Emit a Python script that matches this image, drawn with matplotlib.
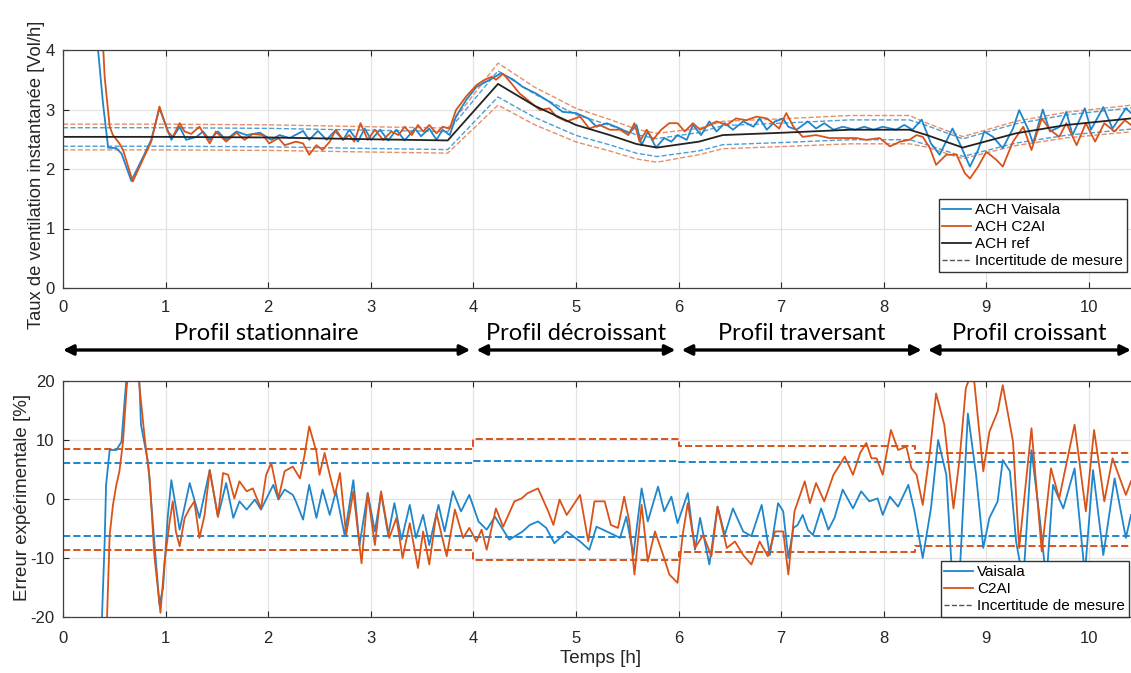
import matplotlib
matplotlib.use('Agg')
import matplotlib.pyplot as plt
import numpy as np

plt.rcParams['font.family'] = ['Liberation Sans', 'DejaVu Sans']
plt.rcParams['axes.unicode_minus'] = False

# ---- top panel: instantaneous ventilation rate [Vol/h] ----
ref_t = [0.0, 1.0, 2.0, 3.0, 3.75, 4.24, 4.6, 5.0, 5.33, 5.59, 5.79, 6.2, 6.43, 7.02, 7.67,
         8.25, 8.42, 8.77, 9.29, 9.78, 10.41]
ref_v = [2.54, 2.54, 2.53, 2.50, 2.48, 3.43, 3.06, 2.74, 2.57, 2.42, 2.36, 2.46, 2.57, 2.61, 2.66,
         2.66, 2.57, 2.36, 2.60, 2.74, 2.85]

vai_t = [0.31, 0.39, 0.44, 0.52, 0.57, 0.666, 0.78, 0.86, 0.94, 1.056, 1.137, 1.20, 1.30, 1.365,
         1.43, 1.51, 1.59, 1.69, 1.79, 1.92, 2.03, 2.11, 2.21, 2.34, 2.40, 2.485, 2.57, 2.65, 2.73,
         2.79, 2.875, 2.94, 3.005, 3.09, 3.17, 3.25, 3.33, 3.43, 3.49, 3.57, 3.64, 3.70, 3.77,
         3.83, 3.93, 4.03, 4.16, 4.27, 4.39, 4.48, 4.61, 4.74, 4.87, 5.0, 5.12, 5.20, 5.30, 5.43,
         5.52, 5.59, 5.64, 5.70, 5.78, 5.86, 5.93, 5.99, 6.08, 6.14, 6.22, 6.30, 6.37, 6.45, 6.53,
         6.63, 6.73, 6.79, 6.86, 6.94, 7.02, 7.07, 7.15, 7.26, 7.34, 7.42, 7.51, 7.60, 7.72, 7.81,
         7.90, 7.99, 8.12, 8.20, 8.28, 8.37, 8.46, 8.545, 8.67, 8.74, 8.84, 8.92, 8.98, 9.065,
         9.16, 9.26, 9.32, 9.41, 9.455, 9.55, 9.62, 9.715, 9.78, 9.84, 9.96, 10.02, 10.14, 10.23,
         10.36, 10.41]
vai_v = [4.6, 3.1, 2.36, 2.35, 2.26, 1.80, 2.20, 2.49, 3.02, 2.49, 2.71, 2.49, 2.54, 2.63,
         2.49, 2.63, 2.49, 2.63, 2.57, 2.61, 2.49, 2.57, 2.52, 2.64, 2.49, 2.64, 2.49, 2.64, 2.49,
         2.66, 2.46, 2.68, 2.49, 2.66, 2.48, 2.66, 2.48, 2.68, 2.55, 2.68, 2.49, 2.66, 2.57,
         2.88, 3.16, 3.38, 3.50, 3.61, 3.50, 3.38, 3.27, 3.13, 2.96, 2.94, 2.85, 2.71, 2.77, 2.68,
         2.60, 2.74, 2.40, 2.63, 2.36, 2.52, 2.46, 2.57, 2.49, 2.74, 2.57, 2.80, 2.63, 2.77, 2.66,
         2.80, 2.71, 2.85, 2.66, 2.80, 2.85, 2.71, 2.66, 2.80, 2.68, 2.77, 2.66, 2.71, 2.66, 2.71,
         2.66, 2.71, 2.66, 2.74, 2.66, 2.83, 2.43, 2.24, 2.68, 2.43, 2.04, 2.32, 2.63, 2.54,
         2.35, 2.68, 2.99, 2.66, 2.43, 3.00, 2.63, 2.71, 2.96, 2.57, 3.02, 2.66, 3.04, 2.68,
         3.02, 2.94]

c2a_t = [0.375, 0.406, 0.455, 0.487, 0.55, 0.585, 0.68, 0.80, 0.86, 0.94, 1.02, 1.07, 1.137,
         1.186, 1.25, 1.33, 1.43, 1.49, 1.59, 1.69, 1.77, 1.85, 1.95, 2.01, 2.10, 2.16, 2.27,
         2.34, 2.40, 2.47, 2.53, 2.60, 2.66, 2.73, 2.79, 2.84, 2.90, 2.97, 3.04, 3.12, 3.20, 3.27,
         3.33, 3.40, 3.46, 3.51, 3.57, 3.64, 3.70, 3.77, 3.83, 3.93, 4.03, 4.11, 4.18, 4.22, 4.29,
         4.37, 4.45, 4.55, 4.65, 4.74, 4.81, 4.91, 5.04, 5.13, 5.23, 5.33, 5.43, 5.51, 5.57, 5.62,
         5.69, 5.75, 5.83, 5.91, 5.99, 6.06, 6.14, 6.21, 6.30, 6.37, 6.47, 6.56, 6.66, 6.76, 6.86,
         6.92, 6.98, 7.05, 7.12, 7.21, 7.34, 7.47, 7.60, 7.73, 7.83, 7.96, 8.06, 8.16, 8.25, 8.32,
         8.38, 8.45, 8.51, 8.61, 8.71, 8.79, 8.84, 8.92, 9.0, 9.10, 9.16, 9.26, 9.36, 9.44, 9.54,
         9.62, 9.71, 9.78, 9.88, 9.97, 10.06, 10.15, 10.25, 10.35, 10.41]
c2a_v = [4.6, 3.55, 2.71, 2.57, 2.43, 2.32, 1.79, 2.24, 2.46, 3.05, 2.63, 2.54, 2.77,
         2.63, 2.59, 2.71, 2.43, 2.63, 2.46, 2.61, 2.49, 2.59, 2.57, 2.43, 2.52, 2.40, 2.46,
         2.43, 2.24, 2.40, 2.32, 2.46, 2.66, 2.49, 2.57, 2.46, 2.77, 2.49, 2.66, 2.49, 2.63, 2.57,
         2.71, 2.57, 2.74, 2.63, 2.74, 2.60, 2.71, 2.68, 2.99, 3.22, 3.41, 3.50, 3.55, 3.50, 3.60,
         3.44, 3.27, 3.13, 2.99, 3.02, 2.88, 2.80, 2.88, 2.68, 2.74, 2.66, 2.66, 2.57, 2.77, 2.46,
         2.66, 2.49, 2.66, 2.77, 2.77, 2.63, 2.77, 2.66, 2.74, 2.80, 2.74, 2.85, 2.82, 2.88, 2.85,
         2.77, 2.68, 2.94, 2.71, 2.54, 2.57, 2.52, 2.52, 2.52, 2.49, 2.52, 2.38, 2.46, 2.49, 2.57,
         2.54, 2.35, 2.07, 2.24, 2.24, 1.93, 1.84, 2.04, 2.29, 2.15, 2.04, 2.46, 2.71, 2.32, 2.85,
         2.66, 2.54, 2.77, 2.40, 2.77, 2.46, 2.77, 2.63, 2.82, 2.74]

# ---- bottom panel: experimental error [%] ----
vai_err_t = [0.37, 0.406, 0.42, 0.455, 0.52, 0.57, 0.60, 0.64, 0.70, 0.74, 0.76, 0.83, 0.877,
             0.94, 0.975, 1.02, 1.056, 1.137, 1.235, 1.33, 1.43, 1.51, 1.59, 1.66, 1.72, 1.79,
             1.87, 1.93, 2.05, 2.10, 2.16, 2.24, 2.27, 2.34, 2.40, 2.47, 2.53, 2.60, 2.66, 2.745,
             2.83, 2.89, 2.97, 3.04, 3.10, 3.17, 3.23, 3.30, 3.38, 3.44, 3.51, 3.57, 3.66, 3.72,
             3.80, 3.88, 3.96, 4.05, 4.13, 4.21, 4.35, 4.48, 4.55, 4.63, 4.71, 4.79, 4.91, 5.04,
             5.13, 5.20, 5.30, 5.43, 5.49, 5.56, 5.64, 5.70, 5.80, 5.86, 5.93, 5.99, 6.09, 6.16,
             6.21, 6.30, 6.38, 6.45, 6.53, 6.63, 6.71, 6.81, 6.89, 6.97, 7.02, 7.07, 7.12, 7.16,
             7.21, 7.26, 7.31, 7.39, 7.46, 7.52, 7.60, 7.70, 7.78, 7.86, 7.94, 7.99, 8.06, 8.14,
             8.24, 8.30, 8.38, 8.46, 8.53, 8.61, 8.66, 8.74, 8.82, 8.90, 8.97, 9.03, 9.11, 9.16,
             9.23, 9.29, 9.36, 9.44, 9.52, 9.585, 9.65, 9.75, 9.86, 9.96, 10.04, 10.14, 10.25,
             10.36, 10.41]
vai_err_v = [-25.0, -7.2, 2.4, 8.3, 8.3, 9.7, 16.5, 25.0, 30.0, 22.0, 12.6, 6.1, -4.4,
             -17.9, -15.1, -3.2, 3.2, -5.2, 2.7, -3.2, 4.9, -3.0, 2.7, -3.2, -0.4, -1.8,
             -0.1, -1.8, 2.4, -0.1, 1.6, 0.7, -0.4, -3.5, 2.4, -3.2, 1.6, -2.7, 1.3, -6.1,
             3.2, -7.8, 1.0, -5.5, 1.0, -6.1, -0.7, -6.9, -1.0, -6.6, -2.7, -7.8, -1.0, -5.5,
             1.3, -2.1, 0.7, -3.8, -5.2, -3.0, -6.9, -5.5, -4.4, -3.8, -4.9, -7.5, -5.5, -7.2,
             -8.6, -4.7, -5.5, -6.6, -3.0, -9.5, 1.8, -3.8, 2.1, -2.1, 0.4, -4.1, 1.0, -8.6,
             -3.2, -11.1, -1.3, -6.1, -1.6, -5.5, -6.3, -1.0, -9.5, -0.7, -2.1, -10.0, -4.9, -4.4,
             -2.7, -5.2, -6.1, -1.6, -5.2, -3.2, 1.6, -1.6, 1.3, -0.4, 0.1, -2.7, 0.4, -1.3,
             2.4, -2.1, -10.0, -1.6, 10.0, 4.1, -11.1, -12.8, 14.5, 4.1, -8.3, -3.2, -0.4, 6.6,
             4.7, -7.2, -14.0, 8.3, -3.2, -14.0, 2.4, -1.6, 5.2, -12.8, 4.9, -9.5, 3.5,
             -6.6, -2.7]

c2a_err_t = [0.42, 0.455, 0.487, 0.52, 0.55, 0.585, 0.62, 0.68, 0.74, 0.80, 0.845, 0.89, 0.95,
             0.99, 1.04, 1.07, 1.10, 1.137, 1.186, 1.235, 1.28, 1.33, 1.38, 1.43, 1.51, 1.56,
             1.61, 1.67, 1.72, 1.79, 1.85, 1.93, 1.98, 2.03, 2.10, 2.16, 2.24, 2.31, 2.355, 2.40,
             2.47, 2.50, 2.55, 2.60, 2.65, 2.70, 2.76, 2.83, 2.91, 2.97, 3.04, 3.10, 3.18, 3.25,
             3.31, 3.38, 3.46, 3.51, 3.57, 3.64, 3.74, 3.82, 3.90, 3.96, 4.03, 4.08, 4.13, 4.22,
             4.29, 4.40, 4.47, 4.53, 4.63, 4.73, 4.78, 4.84, 4.91, 5.04, 5.12, 5.18, 5.28, 5.34,
             5.41, 5.47, 5.52, 5.57, 5.64, 5.70, 5.77, 5.85, 5.91, 5.99, 6.04, 6.09, 6.16, 6.24,
             6.32, 6.38, 6.47, 6.55, 6.63, 6.71, 6.79, 6.87, 6.94, 7.02, 7.07, 7.13, 7.23, 7.28,
             7.34, 7.42, 7.51, 7.55, 7.62, 7.70, 7.77, 7.83, 7.88, 7.93, 7.99, 8.07, 8.14, 8.22,
             8.27, 8.32, 8.38, 8.45, 8.51, 8.59, 8.68, 8.74, 8.80, 8.87, 8.97, 9.03, 9.11, 9.16,
             9.26, 9.32, 9.44, 9.54, 9.63, 9.71, 9.86, 9.97, 10.05, 10.15, 10.23, 10.36, 10.41]
c2a_err_v = [-25.0, -6.1, -1.0, 2.4, 4.7, 9.7, 18.8, 28.0, 20.0, 9.7, 3.5, -9.5, -19.3,
             -10.6, -3.8, -0.4, -5.5, -8.0, -3.2, -1.6, -0.4, -6.6, -2.7, 4.9, -3.0, 4.4,
             4.1, 0.1, 3.0, 1.3, 1.8, -1.6, 4.1, 6.1, 0.1, 4.7, 5.5, 3.5, 7.5, 12.3,
             8.0, 4.1, 7.8, 4.1, 0.7, 4.4, -6.1, 1.3, -10.9, 1.0, -7.8, 1.3, -6.6, -3.2,
             -10.0, -4.1, -11.7, -5.5, -11.1, -2.4, -9.7, -1.8, -6.6, -4.9, -7.2, -5.2, -8.6, -1.6,
             -4.7, -0.4, 0.1, 1.0, 1.8, -2.1, -4.4, -0.1, -2.7, 0.7, -7.2, -0.4, -0.4, -4.4,
             -4.9, 0.4, -3.8, -12.8, -1.0, -10.6, -5.5, -9.5, -12.8, -14.2, -6.1, -0.7, -8.3, -6.1,
             -9.7, -1.3, -8.3, -7.2, -9.5, -11.1, -7.2, -9.7, -5.5, -5.5, -12.8, -2.1, 3.0, -0.7,
             2.7, -0.4, 4.1, 5.2, 7.2, 4.1, 7.8, 9.5, 6.9, 6.9, 4.1, 11.7, 8.3, 8.9,
             5.2, 4.1, -1.0, 8.0, 17.9, 12.6, -1.6, 6.9, 18.8, 22.0, 4.7, 11.4, 14.8, 19.3,
             9.7, -8.3, 12.0, -8.9, 5.2, 0.1, 12.6, -2.1, 11.7, -0.4, 6.9, 0.7, 3.0]

# measurement uncertainty [%] per profile segment
seg_edges = [0, 4, 6, 8.3, 10.41]
unc_vai_hi = [6.05, 6.4, 6.2, 6.2]
unc_vai_lo = [-6.2, -6.4, -6.3, -6.3]
unc_c2a_hi = [8.4, 10.2, 9.0, 7.8]
unc_c2a_lo = [-8.6, -10.4, -8.9, -7.9]

profiles = ['Profil stationnaire', 'Profil décroissant', 'Profil traversant', 'Profil croissant']
profile_edges = [0, 4, 6, 8.4, 10.41]

blue = '#1f86cc'
orange = '#d95319'
grid_c = '#e3e3e3'
axis_c = '#404040'
txt_c = '#262626'


def seg_value(t, vals):
    idx = np.clip(np.searchsorted(seg_edges, t, side='right') - 1, 0, len(vals) - 1)
    return np.asarray(vals)[idx]


def style(ax, ylim, yticks, xpad):
    ax.set_xlim(0, 10.41)
    ax.set_ylim(*ylim)
    ax.set_xticks(range(0, 11))
    ax.set_yticks(yticks)
    ax.grid(True, color=grid_c, lw=0.9)
    ax.set_axisbelow(True)
    ax.tick_params(direction='in', top=True, labelsize=12, colors=txt_c, length=4)
    ax.tick_params(axis='x', pad=xpad)
    ax.tick_params(axis='y', pad=6)
    for s in ['left', 'bottom', 'top']:
        ax.spines[s].set_color(axis_c)
        ax.spines[s].set_linewidth(0.9)
    ax.spines['right'].set_visible(False)


leg_kw = dict(fontsize=11, fancybox=False, framealpha=1,
              edgecolor='#333333', borderpad=0.25, labelspacing=0.2, handlelength=1.9,
              handletextpad=0.25, borderaxespad=0)

fig = plt.figure(figsize=(11.31, 6.73), dpi=100)
ax1 = fig.add_axes([63 / 1131, 1 - 288 / 673, 1 - 63 / 1131, 238 / 673])
ax2 = fig.add_axes([63 / 1131, 1 - 617 / 673, 1 - 63 / 1131, 236 / 673])

# top panel
rt = np.array(ref_t)
rv = np.array(ref_v)
ax1.plot(rt, rv * (1 + seg_value(rt, unc_vai_hi) / 100), '--', color=blue, lw=1.0, alpha=0.8)
ax1.plot(rt, rv * (1 + seg_value(rt, unc_vai_lo) / 100), '--', color=blue, lw=1.0, alpha=0.8)
ax1.plot(rt, rv * (1 + seg_value(rt, unc_c2a_hi) / 100), '--', color=orange, lw=1.0, alpha=0.65)
ax1.plot(rt, rv * (1 + seg_value(rt, unc_c2a_lo) / 100), '--', color=orange, lw=1.0, alpha=0.65)
l1, = ax1.plot(vai_t, vai_v, color=blue, lw=1.3)
l2, = ax1.plot(c2a_t, c2a_v, color=orange, lw=1.3)
l3, = ax1.plot(ref_t, ref_v, color='#222222', lw=1.3)
l4, = ax1.plot([], [], '--', color='#555555', lw=1.0)
style(ax1, (0, 4), [0, 1, 2, 3, 4], 9)
ax1.set_ylabel('Taux de ventilation instantanée [Vol/h]', fontsize=13.2, color=txt_c)
ax1.yaxis.set_label_coords(-0.0168, 0.475)
ax1.legend([l1, l2, l3, l4], ['ACH Vaisala', 'ACH C2AI', 'ACH ref', 'Incertitude de mesure'],
           loc='lower right', bbox_to_anchor=(1127 / 1131, 1 - 272 / 673),
           bbox_transform=fig.transFigure, **leg_kw)

# bottom panel
st = list(seg_edges)
for vals, col in [(unc_c2a_hi, orange), (unc_c2a_lo, orange), (unc_vai_hi, blue), (unc_vai_lo, blue)]:
    ax2.plot(st, list(vals) + [vals[-1]], '--', color=col, lw=1.4, drawstyle='steps-post')
m1, = ax2.plot(vai_err_t, vai_err_v, color=blue, lw=1.3)
m2, = ax2.plot(c2a_err_t, c2a_err_v, color=orange, lw=1.3)
m3, = ax2.plot([], [], '--', color='#555555', lw=1.0)
style(ax2, (-20, 20), [-20, -10, 0, 10, 20], 10)
ax2.set_ylabel('Erreur expérimentale [%]', fontsize=13.5, color=txt_c)
ax2.yaxis.set_label_coords(-0.030, 0.506)
ax2.set_xlabel('Temps [h]', fontsize=13.5, color=txt_c)
ax2.xaxis.set_label_coords(0.5036, -0.140)
ax2.legend([m1, m2, m3], ['Vaisala', 'C2AI', 'Incertitude de mesure'],
           loc='lower right', bbox_to_anchor=(1129 / 1131, 1 - 617 / 673),
           bbox_transform=fig.transFigure, **leg_kw)

# profile annotations between the panels
for i, name in enumerate(profiles):
    x0 = profile_edges[i] + (0.03 if i > 0 else 0)
    x1 = profile_edges[i + 1] - (0.03 if i < len(profiles) - 1 else 0)
    ax1.annotate('', xy=(x0, 1 - 350 / 673), xytext=(x1, 1 - 350 / 673),
                 xycoords=('data', 'figure fraction'), textcoords=('data', 'figure fraction'),
                 arrowprops=dict(arrowstyle='<|-|>', color='black', lw=2.4,
                                 mutation_scale=15, shrinkA=0, shrinkB=0),
                 annotation_clip=False)
    ax1.annotate(name, xy=((x0 + x1) / 2, 1 - 333 / 673), xycoords=('data', 'figure fraction'),
                 ha='center', va='center', fontsize=17, family=['Lato', 'DejaVu Sans'],
                 annotation_clip=False)

fig.savefig('out.png', dpi=100)
plt.close(fig)
